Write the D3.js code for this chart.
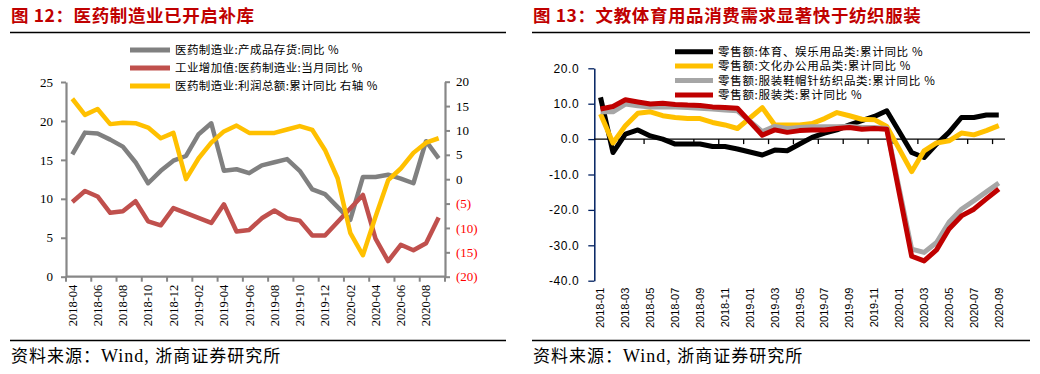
<!DOCTYPE html>
<html>
<head>
<meta charset="utf-8">
<script src="https://cdn.jsdelivr.net/npm/d3@7"></script>
<style>
  body { margin: 0; background: #fff; }
  svg { display: block; }
</style>
</head>
<body>
<div id="chart"></div>
<script>
// ---- data: chart 12 (pharma) ----
var monthsA = ["2018-04","2018-05","2018-06","2018-07","2018-08","2018-09","2018-10","2018-11","2018-12",
  "2019-01","2019-02","2019-03","2019-04","2019-05","2019-06","2019-07","2019-08","2019-09","2019-10","2019-11","2019-12",
  "2020-01","2020-02","2020-03","2020-04","2020-05","2020-06","2020-07","2020-08","2020-09"];
var inventoryYoY = [15.7, 18.5, 18.4, 17.6, 16.7, 14.7, 12.0, 13.6, 14.9, 15.5, 18.3, 19.7, 13.6, 13.8, 13.3,
  14.3, 14.7, 15.1, 13.6, 11.2, 10.6, null, 7.3, 12.8, 12.8, 13.1, 12.6, 12.0, 17.4, 15.2];
var valueAddedYoY = [9.6, 11.0, 10.3, 8.2, 8.4, 9.7, 7.1, 6.6, 8.8, null, null, 6.9, 9.3, 5.8, 6.0,
  7.5, 8.5, 7.5, 7.2, 5.3, 5.3, null, null, 10.5, 4.9, 2.0, 4.1, 3.4, 4.3, 7.6];
var profitYoY = [16.5, 13.2, 14.4, 11.3, 11.6, 11.5, 10.6, 8.4, 9.5, 0.0, 4.3, 7.5, 9.8, 11.0, 9.5,
  9.5, 9.5, 10.2, 10.9, 10.1, 6.0, 0.2, -11.0, -15.6, -7.7, -0.2, 2.2, 5.4, 7.5, 8.4];
var leftTicksA = [0, 5, 10, 15, 20, 25];
var rightTicksA = [-20, -15, -10, -5, 0, 5, 10, 15, 20];

// ---- data: chart 13 (retail) ----
var monthsB = ["2018-01","2018-02","2018-03","2018-04","2018-05","2018-06","2018-07","2018-08","2018-09","2018-10","2018-11","2018-12",
  "2019-01","2019-02","2019-03","2019-04","2019-05","2019-06","2019-07","2019-08","2019-09","2019-10","2019-11","2019-12",
  "2020-01","2020-02","2020-03","2020-04","2020-05","2020-06","2020-07","2020-08","2020-09"];
var sportsYoY = [11.8, -3.8, 1.4, 2.6, 0.9, 0.0, -1.4, -1.4, -1.4, -2.1, -2.1, -2.8, null, -4.5, -3.1, -3.3,
  -1.4, 0.5, 1.7, 2.6, 4.0, 5.2, 6.4, 8.0, null, -3.8, -5.2, -1.4, 1.9, 6.1, 6.1, 6.8, 6.8];
var officeYoY = [7.1, -1.1, 3.8, 7.3, 7.7, 6.6, 6.1, 5.8, 5.8, 4.7, 4.0, 3.0, null, 8.9, 4.0, 4.0,
  4.0, 4.4, 5.8, 7.5, 6.6, 5.6, 5.5, 3.6, null, -9.2, -3.3, -1.1, -0.5, 1.7, 1.2, 2.4, 3.8];
var apparelAllYoY = [7.7, 7.7, 9.9, 9.4, 9.1, 9.1, 9.1, 8.9, 8.7, 8.5, 8.2, 8.0, null, 2.1, 3.6, 3.0,
  3.3, 3.5, 3.5, 3.5, 3.6, 3.3, 3.3, 3.0, null, -31.1, -32.0, -29.2, -23.5, -19.8, -17.4, -14.9, -12.4];
var clothingYoY = [8.5, 9.2, 11.1, 10.5, 9.9, 10.1, 9.8, 9.6, 9.5, 9.1, 8.9, 8.7, null, 1.1, 2.6, 1.9,
  2.4, 2.6, 2.6, 3.0, 3.3, 2.8, 3.0, 2.8, null, -33.1, -34.4, -31.3, -25.4, -21.7, -19.8, -16.9, -14.1];
var yTicksB = [-40, -30, -20, -10, 0, 10, 20];

var cjk = '"Noto Sans CJK SC", "Noto Sans", sans-serif';
var serif = '"Liberation Serif", "DejaVu Serif", serif';
var sans = '"Liberation Sans", Arial, sans-serif';

var svg = d3.select("#chart").append("svg")
    .attr("width", 1040)
    .attr("height", 374)
    .style("background", "#fff");

// titles, rules and sources for both panels
function frame(x0, x1, title) {
  svg.append("text")
     .attr("x", x0 + 1).attr("y", 22)
     .style("font-family", cjk).style("font-size", "17.5px").style("font-weight", "bold")
     .style("letter-spacing", "0.6px")
     .attr("fill", "#C00000")
     .text(title);
  svg.append("line").attr("x1", x0).attr("x2", x1).attr("y1", 32.5).attr("y2", 32.5)
     .attr("stroke", "#000").attr("stroke-width", 1.3);
  svg.append("line").attr("x1", x0).attr("x2", x1).attr("y1", 340.5).attr("y2", 340.5)
     .attr("stroke", "#000").attr("stroke-width", 1.3);
  var src = svg.append("text").attr("x", x0 + 1).attr("y", 362)
     .style("font-family", cjk).style("font-size", "17px").style("letter-spacing", "1px")
     .attr("fill", "#000");
  src.append("tspan").text("资料来源：");
  src.append("tspan").style("font-family", serif).style("font-size", "18px").text("Wind, ");
  src.append("tspan").text("浙商证券研究所");
}
frame(10, 506, "图 12：医药制造业已开启补库");
frame(532, 1030, "图 13：文教体育用品消费需求显著快于纺织服装");

// line helper: skip null months, connect the rest
function drawLine(g, months, values, x, y, color, width) {
  var pts = months.map((m, i) => ({m: m, v: values[i]})).filter(d => d.v !== null);
  g.append("path")
   .datum(pts)
   .attr("fill", "none")
   .attr("stroke", color)
   .attr("stroke-width", width)
   .attr("stroke-linejoin", "round")
   .attr("d", d3.line()
      .x(d => x(d.m) + x.bandwidth() / 2)
      .y(d => y(d.v)));
}

function legend(items, lx0, lx1, y0, dy, spacing) {
  items.forEach(function (it, i) {
    var yy = y0 + i * dy;
    svg.append("line").attr("x1", lx0).attr("x2", lx1).attr("y1", yy).attr("y2", yy)
       .attr("stroke", it.color).attr("stroke-width", 5);
    svg.append("text").attr("x", lx1 + 5).attr("y", yy).attr("dy", "0.36em")
       .style("font-family", cjk).style("font-size", "11.5px").style("letter-spacing", spacing)
       .attr("fill", "#000")
       .text(it.name);
  });
}

// ================= chart 12 =================
(function () {
  var x = d3.scaleBand().domain(monthsA).range([66, 445]);
  var yL = d3.scaleLinear().domain([0, 25]).range([276.7, 82]);
  var yR = d3.scaleLinear().domain([-20, 20]).range([276.7, 81.7]);
  var axisColor = "#878787";

  var g = svg.append("g");

  var left = g.append("g").attr("transform", "translate(66,0)")
     .call(d3.axisLeft(yL).tickValues(leftTicksA).tickSize(5).tickSizeOuter(0).tickPadding(8));
  var right = g.append("g").attr("transform", "translate(445,0)")
     .call(d3.axisRight(yR).tickValues(rightTicksA).tickSize(5).tickSizeOuter(0).tickPadding(6)
       .tickFormat(v => v < 0 ? "(" + (-v) + ")" : String(v)));
  [left, right].forEach(function (a) {
    a.select(".domain").attr("stroke", axisColor).attr("stroke-width", 2.2);
    a.selectAll(".tick line").attr("stroke", axisColor).attr("stroke-width", 2);
    a.selectAll("text").style("font-family", serif).style("font-size", "13px").attr("fill", "#000");
  });
  right.selectAll(".tick text").attr("fill", d => d < 0 ? "#FF0000" : "#000");

  // bottom axis: boundary ticks every 2 months, labels at centers
  var bottom = g.append("g").attr("transform", "translate(0,276.7)");
  bottom.append("line").attr("x1", 66).attr("x2", 445).attr("stroke", axisColor).attr("stroke-width", 2.2);
  bottom.selectAll(".bt").data(monthsA.filter((d, i) => i % 2 === 0).concat(["end"]))
     .enter().append("line")
     .attr("x1", d => d === "end" ? 445 : x(d)).attr("x2", d => d === "end" ? 445 : x(d))
     .attr("y1", 0).attr("y2", 5)
     .attr("stroke", axisColor).attr("stroke-width", 2);
  bottom.selectAll(".lbl").data(monthsA.filter((d, i) => i % 2 === 0))
     .enter().append("text")
     .attr("transform", d => "translate(" + (x(d) + x.bandwidth() / 2) + ",0) rotate(-90)")
     .attr("x", -8).attr("dy", "0.35em")
     .attr("text-anchor", "end")
     .style("font-family", serif).style("font-size", "12.5px").attr("fill", "#000")
     .text(d => d);

  drawLine(g, monthsA, inventoryYoY, x, yL, "#808080", 4.5);
  drawLine(g, monthsA, valueAddedYoY, x, yL, "#C0504D", 4.5);
  drawLine(g, monthsA, profitYoY, x, yR, "#FFC000", 4.5);

  legend([
    {name: "医药制造业:产成品存货:同比 %", color: "#808080"},
    {name: "工业增加值:医药制造业:当月同比 %", color: "#C0504D"},
    {name: "医药制造业:利润总额:累计同比 右轴 %", color: "#FFC000"}
  ], 130, 170, 50, 18, "0.4px");
})();

// ================= chart 13 =================
(function () {
  var x = d3.scaleBand().domain(monthsB).range([594.3, 1005]);
  var y = d3.scaleLinear().domain([-40, 20]).range([280.7, 68.3]);

  var g = svg.append("g");

  var left = g.append("g").attr("transform", "translate(594.3,0)")
     .call(d3.axisLeft(y).tickValues(yTicksB).tickSize(6).tickSizeOuter(0).tickPadding(9)
       .tickFormat(v => v.toFixed(1)));
  left.select(".domain").attr("stroke", "#002060").attr("stroke-width", 1.5);
  left.selectAll(".tick line").attr("stroke", "#002060").attr("stroke-width", 1.3);
  left.selectAll("text").style("font-family", sans).style("font-size", "12px")
      .style("letter-spacing", "0.6px").attr("fill", "#000");

  // zero line with boundary ticks
  var zero = g.append("g").attr("transform", "translate(0," + y(0) + ")");
  zero.append("line").attr("x1", 594.3).attr("x2", 1005).attr("stroke", "#000").attr("stroke-width", 1.3);
  zero.selectAll(".zt").data(monthsB.filter((d, i) => i % 2 === 0 && i > 0))
     .enter().append("line")
     .attr("x1", d => x(d)).attr("x2", d => x(d))
     .attr("y1", 0).attr("y2", 5)
     .attr("stroke", "#000").attr("stroke-width", 1.3);

  g.append("g").attr("transform", "translate(0,280.7)")
   .selectAll("text").data(monthsB.filter((d, i) => i % 2 === 0))
   .enter().append("text")
     .attr("transform", d => "translate(" + (x(d) + x.bandwidth() / 2) + ",0) rotate(-90)")
     .attr("x", -7).attr("dy", "0.35em")
     .attr("text-anchor", "end")
     .style("font-family", sans).style("font-size", "11px").attr("fill", "#000")
     .text(d => d);

  drawLine(g, monthsB, sportsYoY, x, y, "#000000", 5);
  drawLine(g, monthsB, officeYoY, x, y, "#FFC000", 5);
  drawLine(g, monthsB, apparelAllYoY, x, y, "#A6A6A6", 5);
  drawLine(g, monthsB, clothingYoY, x, y, "#C00000", 5);

  legend([
    {name: "零售额:体育、娱乐用品类:累计同比 %", color: "#000000"},
    {name: "零售额:文化办公用品类:累计同比 %", color: "#FFC000"},
    {name: "零售额:服装鞋帽针纺织品类:累计同比 %", color: "#A6A6A6"},
    {name: "零售额:服装类:累计同比 %", color: "#C00000"}
  ], 675, 713, 51.7, 14.4, "0.7px");
})();
</script>
</body>
</html>
